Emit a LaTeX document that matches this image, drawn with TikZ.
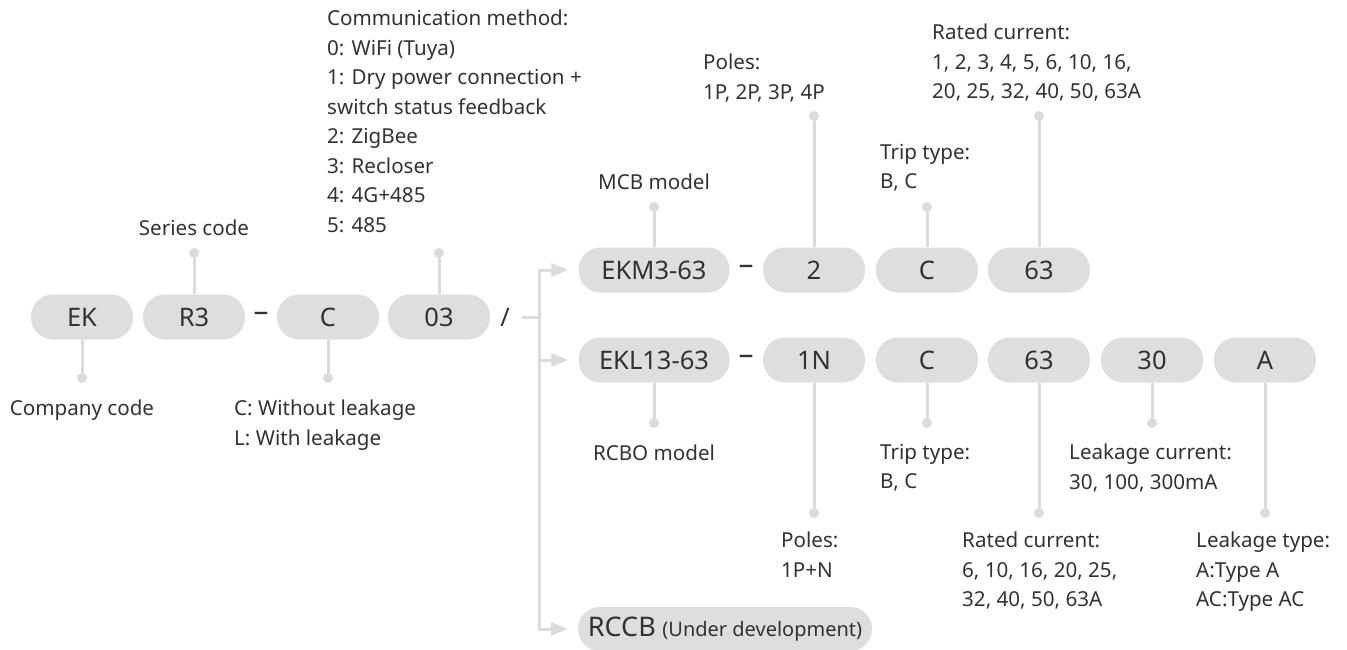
\documentclass[tikz,border=0pt]{standalone}
\usepackage{fontspec}
\setmainfont{Noto Sans}
\usetikzlibrary{arrows.meta}
\definecolor{pillgray}{RGB}{221,222,224}
\definecolor{linegray}{RGB}{218,219,221}
\definecolor{textgray}{RGB}{50,50,50}

\begin{document}
\begin{tikzpicture}[x=1pt, y=-1pt]
    \tikzstyle{every node}=[text=textgray, inner sep=0pt]
    \tikzstyle{pill}=[fill=pillgray, rounded corners=22pt, minimum width=102pt, minimum height=45pt, font=\fontsize{25.5}{30}\selectfont]
    \tikzstyle{sep}=[font=\fontsize{25.5}{30}\selectfont]
    \tikzstyle{joiner}=[font=\fontsize{30}{30}\selectfont\bfseries]
    \tikzstyle{dot}=[circle, fill=linegray, minimum size=10pt]
    \tikzstyle{lbl}=[align=left, anchor=north west, font=\fontsize{20.6}{29.5}\selectfont]
    \tikzstyle{edge}=[linegray, line width=3pt]
    \tikzstyle{branch}=[linegray, line width=3pt, -{Triangle[length=17pt, width=13pt]}, shorten >=10pt]

    \useasboundingbox (0,0) rectangle (1347,650);

    % main code
    \node[pill] (ek) at (82,317) {EK};
    \node[pill] (rthree) at (194,317) {R3};
    \node[joiner] (dasha) at (261,317) {–};
    \node[pill] (cc) at (328,317) {C};
    \node[pill] (comm) at (439,317) {03};
    \node[sep] (slash) at (505,317) {/};

    % MCB row
    \node[pill, minimum width=151pt] (mcb) at (654,270) {EKM3-63};
    \node[joiner] (dashb) at (746,270) {–};
    \node[pill] (mpoles) at (814,270) {2};
    \node[pill] (mtrip) at (927,270) {C};
    \node[pill] (mrated) at (1039,270) {63};

    % RCBO row
    \node[pill, minimum width=151pt] (rcbo) at (654,360) {EKL13-63};
    \node[joiner] (dashc) at (746,360) {–};
    \node[pill] (rpoles) at (814,360) {1N};
    \node[pill] (rtrip) at (927,360) {C};
    \node[pill] (rrated) at (1039,360) {63};
    \node[pill] (rleak) at (1152,360) {30};
    \node[pill] (rtype) at (1265,360) {A};

    \node[pill, minimum width=294pt, minimum height=44pt] (rccb) at (725,629) {{\fontsize{27}{30}\selectfont RCCB} {\fontsize{20}{24}\selectfont (Under development)}};

    % branches
    \coordinate (slashend) at (522,317);
    \coordinate (fork) at (539,317);
    \draw[edge] (slashend) -- (fork);
    \draw[branch] (fork) |- (mcb.west);
    \draw[branch] (fork) |- (rcbo.west);
    \draw[branch] (fork) |- (rccb.west);

    % dots
    \node[dot] (ekd) at (82,378) {};
    \node[dot] (rthreed) at (194,253) {};
    \node[dot] (ccd) at (328,378) {};
    \node[dot] (commd) at (439,253) {};
    \node[dot] (mcbd) at (654,207) {};
    \node[dot] (mpolesd) at (814,116) {};
    \node[dot] (mtripd) at (927,207) {};
    \node[dot] (mratedd) at (1039,116) {};
    \node[dot] (rcbod) at (654,423) {};
    \node[dot] (rpolesd) at (814,513) {};
    \node[dot] (rtripd) at (927,423) {};
    \node[dot] (rratedd) at (1039,513) {};
    \node[dot] (rleakd) at (1152,423) {};
    \node[dot] (rtyped) at (1265,513) {};

    \draw[edge] (ek) -- (ekd);
    \draw[edge] (rthree) -- (rthreed);
    \draw[edge] (cc) -- (ccd);
    \draw[edge] (comm) -- (commd);
    \draw[edge] (mcb) -- (mcbd);
    \draw[edge] (mpoles) -- (mpolesd);
    \draw[edge] (mtrip) -- (mtripd);
    \draw[edge] (mrated) -- (mratedd);
    \draw[edge] (rcbo) -- (rcbod);
    \draw[edge] (rpoles) -- (rpolesd);
    \draw[edge] (rtrip) -- (rtripd);
    \draw[edge] (rrated) -- (rratedd);
    \draw[edge] (rleak) -- (rleakd);
    \draw[edge] (rtype) -- (rtyped);

    % labels
    \node[lbl, anchor=north] (ekl) at (82,400) {Company code};
    \node[lbl, anchor=north] (rthreel) at (194,220) {Series code};
    \node[lbl] (ccl) at (234,400) {C: Without leakage\\L: With leakage};
    \node[lbl] (comml) at (327,10) {Communication method:\\0: WiFi (Tuya)\\1: Dry power connection +\\switch status feedback\\2: ZigBee\\3: Recloser\\4: 4G+485\\5: 485};
    \node[lbl, anchor=north] (mcbl) at (654,174) {MCB model};
    \node[lbl] (mpolesl) at (703,54) {Poles:\\1P, 2P, 3P, 4P};
    \node[lbl] (mtripl) at (880,144) {Trip type:\\B, C};
    \node[lbl] (mratedl) at (932,24) {Rated current:\\1, 2, 3, 4, 5, 6, 10, 16,\\20, 25, 32, 40, 50, 63A};
    \node[lbl, anchor=north] (rcbol) at (654,445) {RCBO model};
    \node[lbl] (rpolesl) at (781,532) {Poles:\\1P+N};
    \node[lbl] (rtripl) at (880,444) {Trip type:\\B, C};
    \node[lbl] (rratedl) at (962,532) {Rated current:\\6, 10, 16, 20, 25,\\32, 40, 50, 63A};
    \node[lbl] (rleakl) at (1069,444) {Leakage current:\\30, 100, 300mA};
    \node[lbl] (rtypel) at (1196,532) {Leakage type:\\A:Type A\\AC:Type AC};
\end{tikzpicture}
\end{document}
